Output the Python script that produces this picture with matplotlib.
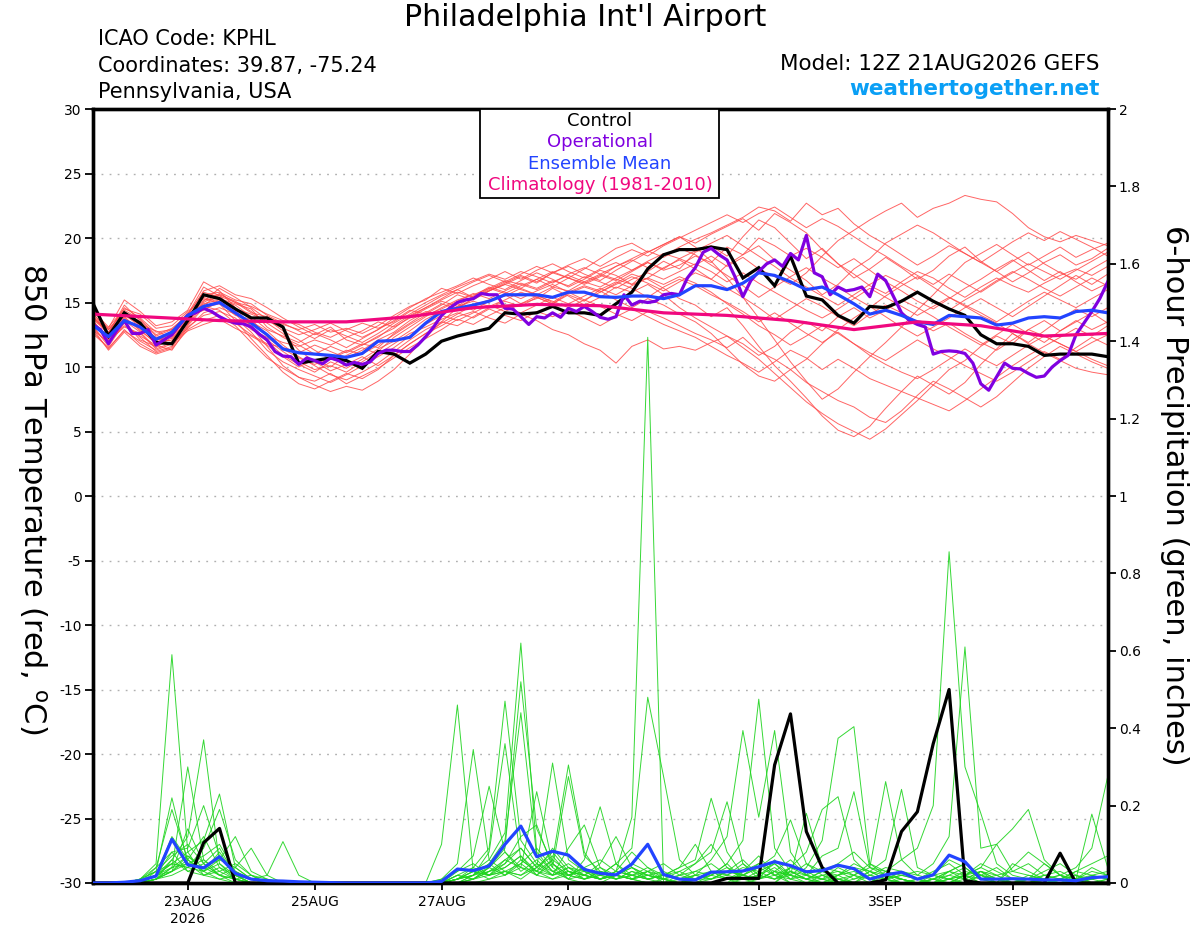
import matplotlib
matplotlib.use('Agg')
import matplotlib.pyplot as plt
from matplotlib.patches import Rectangle
import numpy as np

plt.rcParams['font.family'] = ['DejaVu Sans']
plt.rcParams['axes.unicode_minus'] = False

# ---------------- time axes (hours after 12Z 21AUG2026) ----------------
hours6 = np.arange(0, 385, 6)
hours3 = np.arange(0, 385, 3)
hours24 = np.arange(0, 385, 24)

xtick_hours = [36, 84, 132, 180, 252, 300, 348]
xtick_labels = ['23AUG\n2026', '25AUG', '27AUG', '29AUG', '1SEP', '3SEP', '5SEP']
temp_ticks = list(range(-30, 31, 5))
precip_ticks = [0, 0.2, 0.4, 0.6, 0.8, 1.0, 1.2, 1.4, 1.6, 1.8, 2.0]
precip_tick_labels = ['0', '0.2', '0.4', '0.6', '0.8', '1', '1.2', '1.4', '1.6', '1.8', '2']

# ---------------- 850 hPa temperature (C) ----------------
control_temp = [15.0, 12.4, 14.2, 13.4, 11.9, 11.8, 13.6, 15.6, 15.3, 14.5, 13.8, 13.8, 13.1,
                10.3, 10.5, 10.7, 10.5, 9.9, 11.2, 11.0, 10.3, 11.0, 12.0, 12.4, 12.7, 13.0,
                14.2, 14.1, 14.2, 14.7, 14.2, 14.2, 14.0, 14.9, 15.8, 17.6, 18.7, 19.1, 19.1,
                19.3, 19.1, 16.9, 17.7, 16.3, 18.6, 15.5, 15.2, 14.0, 13.4, 14.7, 14.6, 15.1,
                15.8, 15.1, 14.5, 14.0, 12.5, 11.8, 11.8, 11.6, 10.9, 11.0, 11.0, 11.0, 10.8]

mean_temp = [13.25, 12.35, 13.6, 13.1, 12.15, 12.7, 14.0, 14.7, 15.0, 14.2, 13.4, 12.5, 11.4,
             11.1, 11.0, 10.9, 10.75, 11.05, 12.0, 12.05, 12.3, 13.4, 14.3, 14.55, 14.8, 15.1,
             15.6, 15.6, 15.6, 15.4, 15.8, 15.8, 15.45, 15.4, 15.5, 15.5, 15.3, 15.6, 16.3,
             16.3, 16.0, 16.5, 17.3, 17.1, 16.6, 16.0, 16.2, 15.6, 14.9, 14.1, 14.4, 14.0,
             13.5, 13.3, 14.0, 13.9, 13.8, 13.25, 13.4, 13.8, 13.9, 13.8, 14.3, 14.4, 14.2]

oper_temp = [13.3, 12.9, 11.8, 12.8, 13.6, 12.6, 12.6, 12.9, 11.7, 12.1, 12.5, 13.3, 14.0, 14.2, 14.55, 14.3,
             13.9, 13.6, 13.4, 13.35, 13.1, 12.55, 12.1, 11.2, 10.85, 10.8, 10.2, 10.7, 10.5, 10.25, 10.7, 10.5,
             10.15, 10.35, 10.2, 10.4, 11.05, 11.3, 11.3, 11.2, 11.2, 11.7, 12.35, 13.1, 14.0, 14.55, 15.0, 15.2,
             15.3, 15.7, 15.6, 15.6, 14.55, 14.5, 13.9, 13.3, 13.9, 13.8, 14.2, 13.85, 14.55, 14.3, 14.7, 14.3,
             13.85, 13.7, 13.9, 15.6, 14.8, 15.1, 15.0, 15.1, 15.6, 15.7, 15.6, 16.9, 17.7, 18.9, 19.2, 18.7,
             18.3, 17.0, 15.45, 16.7, 17.4, 18.0, 18.3, 17.8, 18.8, 18.3, 20.2, 17.3, 17.0, 15.6, 16.2, 15.9,
             16.0, 16.2, 15.45, 17.2, 16.7, 15.45, 14.2, 13.6, 13.3, 13.1, 11.0, 11.2, 11.25, 11.2, 11.05, 10.3,
             8.7, 8.2, 9.25, 10.3, 9.9, 9.85, 9.5, 9.2, 9.3, 10.0, 10.5, 10.9, 12.5, 13.4, 14.3, 15.3, 16.6]

clim_temp = [14.1, 13.85, 13.6, 13.5, 13.5, 13.9, 14.6, 14.85, 14.75, 14.2, 14.0, 13.6, 12.9,
             13.5, 13.2, 12.4, 12.6]

temp_m01 = [14.0, 12.6, 14.8, 13.6, 12.4, 12.9, 14.1, 15.8, 15.4, 14.3, 13.2, 12.1, 11.2,
            10.4, 9.8, 10.1, 9.6, 10.4, 11.2, 12.3, 13.1, 13.9, 14.6, 15.2, 15.6, 16.1,
            15.7, 16.3, 16.8, 16.2, 15.9, 16.6, 17.2, 16.8, 16.4, 17.4, 18.2, 17.6, 18.9,
            19.4, 18.6, 20.1, 21.4, 20.8, 19.6, 18.4, 19.2, 18.0, 16.9, 17.6, 18.5, 17.7,
            16.8, 17.5, 18.6, 19.3, 18.2, 17.4, 16.6, 17.3, 18.1, 18.7, 17.9, 18.4, 19.2]
temp_m02 = [13.2, 11.6, 13.4, 12.3, 11.2, 11.6, 13.2, 14.6, 14.9, 13.6, 12.2, 10.9, 9.6,
            8.7, 8.3, 8.9, 9.5, 9.1, 9.8, 10.9, 11.8, 12.6, 13.4, 14.1, 14.8, 15.2,
            15.6, 14.9, 15.3, 16.1, 15.5, 14.8, 15.4, 16.2, 15.8, 16.4, 15.6, 14.6, 13.8,
            13.1, 12.4, 11.5, 10.6, 9.5, 8.4, 7.3, 6.4, 5.6, 5.0, 4.4, 5.2, 6.3,
            7.4, 8.6, 9.8, 10.5, 11.6, 12.4, 11.8, 12.9, 13.6, 12.8, 13.5, 14.2, 13.4]
temp_m03 = [13.8, 12.9, 14.3, 13.2, 12.1, 12.4, 13.5, 15.1, 16.1, 15.4, 14.6, 13.7, 12.8,
            12.1, 11.3, 10.6, 11.2, 11.8, 11.5, 12.6, 13.4, 14.2, 14.9, 14.5, 15.3, 15.9,
            16.4, 16.0, 15.6, 16.2, 16.9, 16.5, 17.1, 16.7, 17.4, 18.1, 17.6, 18.4, 17.9,
            18.6, 17.8, 18.5, 17.6, 17.0, 16.4, 17.3, 18.6, 19.8, 20.6, 21.4, 22.1, 22.7,
            21.6, 22.3, 22.7, 23.3, 23.0, 22.8, 21.9, 20.8, 20.1, 19.7, 20.2, 19.8, 19.4]
temp_m04 = [13.6, 12.2, 13.9, 12.8, 11.9, 12.1, 13.7, 14.9, 15.2, 14.8, 13.9, 12.9, 12.4,
            11.9, 12.6, 12.1, 11.5, 12.2, 12.9, 13.6, 14.4, 14.1, 14.8, 15.6, 15.2, 15.9,
            16.5, 17.1, 16.6, 17.3, 16.9, 16.4, 17.0, 17.8, 18.3, 17.7, 18.6, 19.3, 19.9,
            20.4, 21.0, 21.6, 22.4, 22.1, 21.3, 22.7, 21.8, 22.3, 21.1, 20.2, 19.5, 18.7,
            17.9, 18.6, 19.4, 18.8, 18.1, 17.4, 18.2, 18.9, 18.0, 17.3, 16.8, 17.6, 18.3]
temp_m05 = [13.4, 12.0, 13.1, 12.6, 11.4, 11.9, 13.0, 14.2, 14.6, 14.1, 13.5, 12.8, 11.7,
            10.8, 10.1, 9.4, 9.0, 9.6, 10.3, 11.2, 12.1, 12.9, 13.5, 13.2, 13.9, 14.6,
            15.1, 14.7, 15.4, 14.9, 15.7, 16.2, 15.8, 16.5, 17.2, 16.8, 16.1, 15.3, 14.8,
            13.9, 14.6, 13.2, 11.6, 10.1, 8.9, 7.6, 6.2, 5.1, 4.6, 5.4, 6.8, 8.1,
            9.3, 8.6, 7.9, 8.8, 10.2, 11.4, 12.6, 11.9, 12.8, 13.7, 14.5, 13.9, 14.6]
temp_m06 = [12.8, 11.4, 12.9, 11.8, 11.1, 11.5, 13.3, 14.8, 15.6, 15.1, 14.3, 13.4, 12.6,
            11.3, 10.4, 9.7, 10.2, 10.8, 10.1, 10.9, 11.8, 12.6, 13.2, 13.9, 14.3, 13.8,
            13.4, 14.1, 13.6, 12.9, 12.5, 11.8, 11.3, 10.3, 11.6, 12.1, 11.4, 11.6, 11.3,
            11.9, 12.4, 11.8, 10.9, 11.6, 12.7, 13.5, 12.8, 13.9, 14.6, 13.8, 14.4, 15.2,
            14.6, 13.9, 13.1, 12.4, 11.7, 12.5, 13.3, 12.6, 11.9, 12.8, 13.6, 12.9, 13.5]
temp_m07 = [14.1, 13.0, 15.2, 14.3, 13.2, 13.5, 14.4, 16.6, 15.9, 14.6, 13.1, 11.6, 10.1,
            9.2, 8.6, 8.1, 8.5, 8.2, 8.9, 9.8, 11.0, 12.3, 13.5, 14.6, 15.3, 15.9,
            16.4, 17.0, 16.5, 17.3, 17.8, 17.2, 16.7, 17.5, 18.2, 18.9, 19.5, 20.1, 19.6,
            20.3, 20.9, 21.5, 20.6, 21.9, 21.2, 20.4, 19.1, 18.0, 17.2, 16.3, 15.7, 16.6,
            17.4, 16.9, 16.1, 15.4, 16.2, 16.9, 16.3, 15.8, 16.5, 17.1, 17.6, 17.1, 17.8]
temp_m08 = [13.5, 12.3, 13.7, 13.0, 12.0, 12.7, 13.8, 15.4, 15.0, 14.0, 13.7, 12.4, 11.9,
            11.6, 12.1, 11.7, 12.3, 12.8, 13.5, 13.1, 13.8, 14.5, 15.1, 14.7, 15.5, 16.2,
            15.8, 15.3, 15.9, 16.4, 15.8, 15.2, 15.8, 16.4, 17.0, 16.5, 15.9, 16.6, 17.3,
            16.8, 16.1, 15.4, 14.6, 13.7, 14.5, 15.3, 14.7, 13.9, 13.2, 14.1, 14.8, 14.2,
            13.5, 12.8, 13.4, 12.6, 11.9, 11.3, 12.1, 12.9, 12.4, 11.8, 11.2, 10.6, 10.1]
temp_m09 = [13.9, 12.5, 14.0, 13.3, 12.8, 12.2, 13.6, 15.6, 15.8, 15.2, 14.9, 14.0, 13.4,
            12.8, 12.2, 12.9, 12.4, 11.9, 12.6, 13.4, 14.1, 14.8, 15.5, 16.0, 15.4, 16.0,
            16.6, 16.1, 16.8, 17.4, 16.9, 17.6, 18.4, 19.2, 19.6, 18.9, 19.5, 20.1, 19.3,
            18.2, 16.9, 15.4, 13.8, 12.1, 10.4, 8.9, 7.5, 8.3, 9.6, 10.8, 11.9, 13.1,
            14.4, 15.6, 16.9, 18.1, 18.8, 19.5, 18.7, 17.9, 18.6, 19.3, 18.5, 19.1, 19.6]
temp_m10 = [13.1, 11.8, 13.5, 12.1, 11.6, 12.6, 13.9, 14.4, 15.1, 14.4, 13.0, 12.0, 10.9,
            10.2, 9.6, 10.4, 9.9, 10.6, 11.4, 12.0, 12.8, 13.7, 14.3, 14.9, 14.4, 15.1,
            15.5, 16.1, 15.6, 15.0, 15.8, 16.3, 15.9, 15.2, 14.6, 15.3, 14.8, 14.1, 13.5,
            12.6, 11.4, 10.2, 9.3, 8.9, 9.8, 10.6, 11.8, 12.9, 13.8, 14.6, 15.5, 16.3,
            17.0, 16.2, 15.4, 14.7, 14.0, 13.4, 12.6, 11.8, 11.1, 10.5, 9.9, 9.6, 9.4]
temp_m11 = [14.4, 13.1, 14.5, 14.1, 13.0, 13.2, 14.3, 15.3, 14.9, 14.5, 14.1, 13.6, 13.0,
            12.5, 12.9, 13.4, 12.8, 12.3, 12.9, 13.8, 14.6, 15.3, 15.8, 16.3, 16.9, 16.4,
            16.0, 16.7, 17.3, 16.8, 16.2, 16.8, 17.5, 17.1, 16.4, 16.9, 17.7, 18.3, 17.6,
            16.8, 17.9, 18.7, 19.4, 18.3, 17.5, 16.7, 15.6, 16.4, 17.6, 18.4, 19.6, 20.3,
            21.0, 20.4, 19.6, 18.8, 18.1, 18.9, 19.7, 20.4, 19.8, 20.5, 19.9, 19.3, 18.6]
temp_m12 = [12.9, 11.9, 13.2, 12.4, 11.7, 11.3, 13.1, 14.0, 14.3, 13.8, 12.7, 11.3, 10.4,
            9.8, 9.3, 8.8, 9.4, 10.1, 10.8, 11.5, 12.4, 13.3, 14.0, 13.6, 14.2, 14.8,
            14.3, 14.9, 15.5, 15.1, 14.6, 15.2, 14.7, 14.1, 13.6, 14.3, 13.8, 13.2, 12.6,
            12.1, 11.5, 12.3, 11.2, 10.6, 9.8, 8.8, 8.1, 7.4, 6.9, 6.1, 5.7, 6.6,
            7.8, 8.9, 8.3, 7.6, 6.9, 7.7, 8.8, 9.9, 10.8, 11.6, 11.0, 10.4, 9.9]
temp_m13 = [13.7, 12.7, 14.2, 13.5, 12.2, 12.0, 13.4, 15.0, 15.7, 15.0, 14.2, 13.9, 13.3,
            12.9, 13.3, 12.7, 13.0, 12.6, 13.2, 14.0, 14.7, 15.2, 16.1, 15.7, 16.3, 16.8,
            17.4, 16.8, 17.5, 18.0, 17.4, 16.9, 17.6, 18.1, 17.5, 18.2, 18.8, 18.4, 19.0,
            19.6, 20.2, 19.4, 18.6, 17.8, 16.9, 16.2, 15.5, 14.8, 15.6, 16.4, 17.1, 16.5,
            15.8, 15.1, 14.4, 15.2, 15.9, 16.7, 17.4, 16.8, 16.1, 15.5, 16.2, 16.9, 16.3]
temp_m14 = [13.3, 12.1, 13.8, 12.9, 11.8, 12.8, 14.2, 14.7, 14.4, 13.4, 12.5, 11.8, 11.5,
            11.1, 11.7, 11.2, 10.7, 11.3, 12.1, 12.7, 13.6, 14.3, 14.1, 14.7, 15.1, 14.7,
            15.2, 15.8, 15.4, 14.9, 15.6, 15.1, 16.0, 16.6, 16.1, 15.4, 16.2, 16.8, 16.3,
            15.6, 15.0, 14.3, 13.5, 14.2, 13.4, 12.6, 11.9, 12.7, 11.8, 10.9, 10.2, 9.6,
            9.1, 9.8, 10.6, 11.4, 10.7, 10.1, 10.9, 11.7, 12.4, 11.8, 11.2, 11.9, 12.5]
temp_m15 = [14.5, 12.9, 14.4, 13.7, 12.5, 13.0, 14.0, 15.9, 16.3, 15.6, 15.3, 14.6, 13.8,
            13.1, 12.5, 13.1, 12.1, 11.7, 12.3, 13.2, 14.0, 14.6, 15.3, 16.0, 16.6, 17.1,
            16.6, 17.2, 17.8, 17.3, 17.9, 18.4, 17.8, 18.5, 19.1, 18.6, 19.4, 20.0, 20.6,
            21.2, 21.8, 21.2, 21.9, 22.4, 21.6, 20.8, 21.5, 20.9, 20.1, 19.3, 18.6, 17.8,
            17.1, 16.4, 17.2, 16.5, 15.8, 16.6, 17.3, 18.0, 17.4, 16.8, 17.5, 18.2, 18.9]
temp_m16 = [13.0, 11.3, 12.7, 11.6, 11.0, 11.4, 12.9, 13.6, 14.0, 13.2, 11.9, 10.7, 9.9,
            9.2, 8.9, 9.5, 8.7, 9.3, 9.9, 10.7, 11.5, 12.2, 12.9, 13.7, 13.3, 14.0,
            14.6, 14.2, 14.8, 15.4, 14.9, 15.5, 16.1, 15.6, 16.3, 16.9, 16.4, 17.0, 16.5,
            15.8, 14.9, 14.1, 13.2, 12.5, 11.7, 12.4, 13.2, 12.6, 11.8, 11.1, 10.5, 11.3,
            12.1, 11.4, 10.8, 10.1, 9.5, 8.9, 9.6, 10.4, 11.2, 10.6, 11.5, 12.3, 11.7]
temp_m17 = [14.3, 12.4, 14.1, 13.1, 12.3, 12.5, 13.7, 15.2, 15.3, 14.9, 14.5, 13.1, 12.3,
            11.7, 11.0, 11.6, 11.1, 11.7, 12.4, 13.0, 13.9, 14.6, 15.2, 15.8, 15.4, 16.1,
            16.7, 16.4, 16.0, 16.6, 17.1, 16.6, 16.2, 16.9, 17.5, 18.1, 17.5, 17.9, 18.6,
            18.1, 19.3, 18.7, 20.0, 19.4, 18.6, 19.2, 18.5, 17.7, 18.4, 17.5, 16.6, 15.9,
            15.1, 14.5, 15.3, 16.1, 16.8, 17.6, 18.3, 17.5, 16.7, 17.4, 16.6, 15.9, 16.5]
temp_m18 = [12.6, 11.5, 12.8, 12.0, 11.3, 11.8, 12.8, 13.3, 13.7, 13.0, 12.4, 11.7, 10.8,
            10.0, 10.6, 10.0, 10.9, 11.5, 11.0, 11.8, 12.6, 13.1, 13.7, 14.2, 13.8, 14.5,
            14.0, 13.6, 14.3, 13.9, 14.4, 13.8, 13.2, 13.9, 14.5, 13.9, 13.3, 12.8, 12.3,
            11.6, 10.9, 10.3, 9.6, 10.4, 11.3, 10.7, 9.8, 10.6, 9.9, 9.1, 8.6, 8.1,
            7.6, 7.1, 6.6, 7.4, 8.3, 9.2, 10.1, 10.9, 11.6, 12.3, 13.0, 12.4, 13.2]
temp_m19 = [13.9, 12.7, 14.6, 13.8, 12.7, 12.9, 13.3, 15.5, 15.6, 14.1, 12.9, 12.3, 11.4,
            10.7, 10.2, 10.7, 11.3, 11.0, 11.7, 12.5, 13.3, 14.0, 14.5, 15.1, 15.7, 15.3,
            15.9, 16.5, 16.1, 16.7, 16.3, 17.0, 16.6, 16.1, 16.8, 17.3, 16.8, 17.4, 18.0,
            17.4, 16.6, 17.3, 16.5, 15.8, 15.1, 14.4, 13.8, 14.5, 15.3, 16.1, 15.4, 14.7,
            14.0, 14.7, 15.4, 14.8, 14.2, 13.5, 14.3, 15.1, 15.8, 15.2, 14.6, 15.3, 16.0]
temp_m20 = [13.6, 12.2, 13.6, 12.7, 11.5, 12.3, 14.1, 16.2, 15.5, 15.0, 14.7, 14.1, 13.6,
            13.3, 12.7, 12.3, 12.9, 13.4, 13.0, 13.5, 14.3, 15.0, 15.6, 16.2, 16.7, 17.2,
            16.8, 17.4, 17.0, 16.5, 17.2, 17.7, 17.2, 17.8, 18.4, 19.0, 18.5, 19.2, 18.7,
            17.9, 17.1, 16.3, 15.4, 16.2, 17.0, 17.7, 16.9, 16.2, 15.4, 14.7, 13.9, 13.1,
            12.4, 13.1, 13.8, 14.6, 15.3, 14.6, 13.9, 14.7, 15.5, 16.3, 17.1, 16.4, 17.2]

# ---------------- 6-hour precipitation (inches) ----------------
control_precip = [0, 0, 0, 0, 0, 0, 0, 0.104, 0.141, 0, 0, 0, 0,
                  0, 0, 0, 0, 0, 0, 0, 0, 0, 0, 0, 0, 0,
                  0, 0, 0, 0, 0, 0, 0, 0, 0, 0, 0, 0, 0,
                  0, 0.012, 0.012, 0.012, 0.305, 0.437, 0.133, 0.04, 0, 0, 0, 0.008, 0.133,
                  0.184, 0.36, 0.50, 0.006, 0, 0, 0, 0, 0, 0.077, 0, 0, 0]

mean_precip = [0, 0, 0.002, 0.006, 0.018, 0.113, 0.047, 0.039, 0.068, 0.025, 0.01, 0.006, 0.005,
               0.003, 0.002, 0.001, 0, 0, 0, 0, 0, 0, 0.004, 0.036, 0.032, 0.044,
               0.10, 0.147, 0.068, 0.082, 0.072, 0.035, 0.025, 0.021, 0.049, 0.10, 0.022, 0.01, 0.008,
               0.028, 0.029, 0.031, 0.042, 0.055, 0.045, 0.029, 0.032, 0.046, 0.037, 0.01, 0.021, 0.028,
               0.01, 0.021, 0.072, 0.055, 0.01, 0.01, 0.011, 0.01, 0.008, 0.008, 0.006, 0.014, 0.016]

precip_m01 = [0, 0, 0, 0.01, 0.05, 0.59, 0.08, 0.02, 0.01, 0, 0, 0, 0,
              0, 0, 0, 0, 0, 0, 0, 0, 0, 0, 0.01, 0.02, 0.03,
              0.05, 0.12, 0.15, 0.04, 0.01, 0, 0, 0.02, 0.01, 0, 0, 0, 0,
              0, 0, 0, 0.01, 0.06, 0.02, 0, 0, 0, 0, 0, 0.01, 0.02,
              0.01, 0, 0.03, 0.05, 0.02, 0, 0.05, 0.03, 0.01, 0, 0, 0, 0.01]
precip_m02 = [0, 0, 0, 0, 0.02, 0.06, 0.12, 0.37, 0.05, 0.01, 0, 0, 0,
              0, 0, 0, 0, 0, 0, 0, 0, 0, 0, 0, 0.01, 0.04,
              0.08, 0.03, 0.06, 0.02, 0.09, 0.15, 0.04, 0.01, 0.02, 0.03, 0, 0, 0.01,
              0.02, 0.05, 0.01, 0, 0, 0.03, 0.01, 0, 0, 0, 0, 0, 0.01,
              0, 0, 0, 0.02, 0.01, 0, 0.04, 0.08, 0.05, 0.02, 0, 0, 0]
precip_m03 = [0, 0, 0, 0, 0.01, 0.04, 0.30, 0.06, 0.02, 0, 0, 0, 0,
              0, 0, 0, 0, 0, 0, 0, 0, 0, 0.01, 0.03, 0.05, 0.02,
              0.04, 0.07, 0.02, 0.05, 0.01, 0.06, 0.197, 0.05, 0.01, 0, 0.01, 0, 0,
              0, 0, 0.03, 0.07, 0.02, 0, 0, 0.01, 0.04, 0.02, 0, 0, 0,
              0.01, 0.02, 0.03, 0.01, 0, 0, 0, 0.01, 0.05, 0.02, 0, 0, 0]
precip_m04 = [0, 0, 0, 0.01, 0.03, 0.05, 0.08, 0.11, 0.23, 0.04, 0.01, 0, 0,
              0, 0, 0, 0, 0, 0, 0, 0, 0, 0, 0, 0, 0.01,
              0.03, 0.02, 0.04, 0.08, 0.03, 0.02, 0.05, 0.12, 0.04, 0.02, 0.01, 0, 0,
              0, 0.01, 0, 0, 0, 0.04, 0.02, 0.01, 0, 0, 0.03, 0.01, 0,
              0, 0.01, 0, 0.02, 0, 0, 0, 0.01, 0.02, 0.03, 0.01, 0.178, 0.04]
precip_m05 = [0, 0, 0, 0, 0.04, 0.19, 0.06, 0.03, 0.05, 0.02, 0, 0, 0,
              0, 0, 0, 0, 0, 0, 0, 0, 0, 0, 0, 0.02, 0.05,
              0.02, 0.06, 0.03, 0.01, 0.02, 0.04, 0.01, 0.03, 0.08, 0.04, 0.01, 0, 0,
              0, 0, 0.01, 0.02, 0.05, 0.01, 0, 0, 0.02, 0, 0, 0.03, 0.01,
              0, 0, 0.01, 0, 0.02, 0.01, 0, 0, 0.01, 0.02, 0.04, 0.09, 0.275]
precip_m06 = [0, 0, 0, 0, 0.02, 0.08, 0.09, 0.20, 0.07, 0.03, 0.01, 0.02, 0.107,
              0.02, 0, 0, 0, 0, 0, 0, 0, 0, 0, 0.01, 0.03, 0.02,
              0.06, 0.09, 0.04, 0.02, 0.03, 0.01, 0.02, 0.05, 0.02, 0.01, 0.02, 0.04, 0.06,
              0.219, 0.08, 0.02, 0.01, 0.03, 0, 0, 0.02, 0.01, 0, 0, 0.01, 0.03,
              0.01, 0, 0, 0, 0.03, 0.01, 0, 0, 0, 0.01, 0, 0, 0]
precip_m07 = [0, 0, 0, 0, 0.01, 0.03, 0.14, 0.05, 0.09, 0.02, 0, 0, 0,
              0, 0, 0, 0, 0, 0, 0, 0, 0, 0.10, 0.46, 0.03, 0.01,
              0.02, 0.05, 0.02, 0.01, 0.03, 0.02, 0.01, 0.02, 0.04, 0.01, 0, 0.02, 0.05,
              0.08, 0.21, 0.05, 0.02, 0.01, 0.03, 0.02, 0, 0.01, 0, 0.02, 0.01, 0,
              0, 0.02, 0.01, 0, 0.02, 0.04, 0.01, 0.01, 0, 0, 0, 0.02, 0.01]
precip_m08 = [0, 0, 0, 0, 0.02, 0.05, 0.04, 0.09, 0.19, 0.06, 0.02, 0, 0,
              0, 0, 0, 0, 0, 0, 0, 0, 0, 0.01, 0.05, 0.345, 0.06,
              0.03, 0.01, 0.04, 0.07, 0.02, 0.01, 0.02, 0.01, 0.03, 0.02, 0.01, 0, 0.02,
              0.06, 0.12, 0.394, 0.17, 0.394, 0.08, 0.02, 0.01, 0, 0.02, 0.01, 0, 0,
              0.01, 0, 0, 0.01, 0.03, 0.02, 0, 0, 0.01, 0, 0.02, 0, 0]
precip_m09 = [0, 0, 0, 0.01, 0.03, 0.22, 0.05, 0.02, 0.03, 0.01, 0, 0, 0,
              0, 0, 0, 0, 0, 0, 0, 0, 0, 0, 0.02, 0.04, 0.09,
              0.47, 0.11, 0.05, 0.02, 0.04, 0.01, 0.03, 0.01, 0.02, 0.04, 0.02, 0.01, 0,
              0.02, 0.05, 0.11, 0.475, 0.09, 0.03, 0.01, 0, 0.02, 0.03, 0.01, 0, 0,
              0, 0.01, 0.03, 0.02, 0, 0, 0.01, 0, 0, 0, 0.01, 0.03, 0.02]
precip_m10 = [0, 0, 0, 0, 0.01, 0.03, 0.07, 0.04, 0.06, 0.12, 0.03, 0.01, 0,
              0, 0, 0, 0, 0, 0, 0, 0, 0, 0, 0.01, 0.03, 0.06,
              0.13, 0.62, 0.08, 0.03, 0.01, 0.02, 0.04, 0.02, 0.01, 0.03, 0.01, 0, 0.01,
              0.03, 0.01, 0.02, 0.04, 0.07, 0.163, 0.05, 0.02, 0, 0.01, 0.03, 0.02, 0,
              0, 0, 0.02, 0.01, 0.03, 0, 0, 0.02, 0.01, 0, 0, 0.01, 0.02]
precip_m11 = [0, 0, 0, 0, 0.03, 0.07, 0.10, 0.05, 0.02, 0.04, 0.01, 0, 0,
              0, 0, 0, 0, 0, 0, 0, 0, 0, 0, 0.02, 0.01, 0.04,
              0.09, 0.52, 0.14, 0.05, 0.02, 0.03, 0.01, 0.02, 0.05, 0.03, 0.02, 0.01, 0.03,
              0.02, 0.04, 0.01, 0.03, 0.05, 0.02, 0.18, 0.04, 0.01, 0, 0, 0.02, 0.01,
              0, 0.01, 0, 0.02, 0.04, 0.02, 0, 0, 0, 0.01, 0, 0, 0]
precip_m12 = [0, 0, 0, 0, 0.02, 0.12, 0.06, 0.03, 0.08, 0.02, 0, 0, 0,
              0, 0, 0, 0, 0, 0, 0, 0, 0, 0, 0.01, 0.02, 0.05,
              0.11, 0.44, 0.07, 0.03, 0.05, 0.02, 0.01, 0.03, 0.02, 0.01, 0.02, 0.03, 0.01,
              0.01, 0.03, 0.06, 0.02, 0.01, 0.04, 0.08, 0.19, 0.223, 0.06, 0.02, 0.01, 0,
              0, 0, 0.01, 0.03, 0.02, 0, 0, 0, 0.01, 0.02, 0.01, 0, 0]
precip_m13 = [0, 0, 0, 0, 0.01, 0.04, 0.05, 0.07, 0.10, 0.03, 0.01, 0, 0,
              0, 0, 0, 0, 0, 0, 0, 0, 0, 0, 0.03, 0.07, 0.25,
              0.08, 0.04, 0.02, 0.06, 0.03, 0.02, 0.01, 0.02, 0.01, 0.03, 0.05, 0.02, 0.01,
              0.02, 0.01, 0.03, 0.05, 0.02, 0.01, 0.04, 0.11, 0.374, 0.404, 0.05, 0.02, 0.01,
              0, 0.01, 0.02, 0.04, 0.01, 0, 0, 0.01, 0, 0, 0, 0.01, 0.02]
precip_m14 = [0, 0, 0, 0, 0.02, 0.03, 0.06, 0.12, 0.04, 0.01, 0.02, 0, 0,
              0, 0, 0, 0, 0, 0, 0, 0, 0, 0, 0, 0.02, 0.08,
              0.36, 0.06, 0.03, 0.09, 0.04, 0.02, 0.01, 0.03, 0.02, 0.01, 0.02, 0.01, 0.02,
              0.01, 0.03, 0.02, 0.01, 0.03, 0.06, 0.02, 0.07, 0.09, 0.236, 0.04, 0.02, 0.01,
              0, 0, 0.01, 0.02, 0.03, 0.01, 0, 0, 0.02, 0.01, 0, 0, 0.01]
precip_m15 = [0, 0, 0, 0.01, 0.04, 0.08, 0.03, 0.05, 0.02, 0.01, 0, 0, 0,
              0, 0, 0, 0, 0, 0, 0, 0, 0, 0, 0.01, 0.03, 0.02,
              0.05, 0.09, 0.04, 0.31, 0.06, 0.03, 0.01, 0.02, 0.04, 0.02, 0.01, 0.03, 0.05,
              0.10, 0.04, 0.02, 0.01, 0.03, 0.02, 0.01, 0.03, 0.05, 0.08, 0.04, 0.262, 0.06,
              0.02, 0.01, 0.03, 0.05, 0.02, 0.01, 0, 0.01, 0.03, 0.05, 0.02, 0, 0]
precip_m16 = [0, 0, 0, 0, 0.01, 0.02, 0.04, 0.03, 0.06, 0.04, 0.09, 0.02, 0,
              0, 0, 0, 0, 0, 0, 0, 0, 0, 0, 0.02, 0.01, 0.03,
              0.04, 0.07, 0.03, 0.06, 0.305, 0.08, 0.02, 0.01, 0.03, 0.01, 0.02, 0.04, 0.10,
              0.03, 0.02, 0.05, 0.01, 0.02, 0.04, 0.03, 0.01, 0.02, 0.05, 0.03, 0.06, 0.242,
              0.04, 0.02, 0.01, 0.02, 0.05, 0.03, 0.01, 0, 0, 0.01, 0.03, 0.02, 0.01]
precip_m17 = [0, 0, 0, 0, 0.01, 0.06, 0.03, 0.02, 0.04, 0.02, 0, 0, 0,
              0, 0, 0, 0, 0, 0, 0, 0, 0, 0, 0, 0.01, 0.03,
              0.06, 0.04, 0.236, 0.05, 0.02, 0.01, 0.03, 0.02, 0.01, 0.02, 0.03, 0.01, 0,
              0.01, 0.02, 0.04, 0.03, 0.01, 0.02, 0.05, 0.03, 0.01, 0.02, 0.04, 0.03, 0.06,
              0.09, 0.20, 0.856, 0.30, 0.18, 0.05, 0.02, 0.01, 0, 0.01, 0.02, 0.01, 0]
precip_m18 = [0, 0, 0, 0, 0.02, 0.04, 0.07, 0.03, 0.01, 0.02, 0.01, 0, 0,
              0, 0, 0, 0, 0, 0, 0, 0, 0, 0, 0.01, 0.04, 0.02,
              0.03, 0.05, 0.09, 0.04, 0.275, 0.07, 0.03, 0.02, 0.01, 0.02, 0.01, 0.02, 0.03,
              0.05, 0.02, 0.01, 0.02, 0.04, 0.01, 0.02, 0.04, 0.03, 0.01, 0.02, 0.04, 0.03,
              0.02, 0.05, 0.12, 0.61, 0.09, 0.10, 0.03, 0.02, 0.01, 0, 0.01, 0.02, 0.03]
precip_m19 = [0, 0, 0, 0, 0.01, 0.03, 0.05, 0.04, 0.02, 0.01, 0, 0, 0,
              0, 0, 0, 0, 0, 0, 0, 0, 0, 0, 0, 0.01, 0.02,
              0.03, 0.02, 0.05, 0.03, 0.02, 0.04, 0.06, 0.03, 0.17, 1.41, 0.0, 0.01, 0.02,
              0.03, 0.01, 0.02, 0.05, 0.03, 0.02, 0.01, 0.03, 0.02, 0.04, 0.03, 0.01, 0.02,
              0.01, 0.03, 0.05, 0.02, 0.04, 0.10, 0.14, 0.19, 0.06, 0.02, 0.01, 0.04, 0.02]
precip_m20 = [0, 0, 0, 0, 0.02, 0.05, 0.04, 0.06, 0.03, 0.05, 0.02, 0.01, 0,
              0, 0, 0, 0, 0, 0, 0, 0, 0, 0, 0.01, 0.02, 0.04,
              0.02, 0.04, 0.03, 0.02, 0.04, 0.03, 0.02, 0.05, 0.09, 0.48, 0.275, 0.06, 0.02,
              0.01, 0.03, 0.02, 0.04, 0.02, 0.03, 0.01, 0.02, 0.03, 0.02, 0.05, 0.03, 0.02,
              0.03, 0.02, 0.06, 0.04, 0.01, 0.02, 0.03, 0.05, 0.02, 0.01, 0.03, 0.05, 0.07]

temp_members = [temp_m01, temp_m02, temp_m03, temp_m04, temp_m05, temp_m06, temp_m07,
                temp_m08, temp_m09, temp_m10, temp_m11, temp_m12, temp_m13, temp_m14,
                temp_m15, temp_m16, temp_m17, temp_m18, temp_m19, temp_m20]
precip_members = [precip_m01, precip_m02, precip_m03, precip_m04, precip_m05, precip_m06,
                  precip_m07, precip_m08, precip_m09, precip_m10, precip_m11, precip_m12,
                  precip_m13, precip_m14, precip_m15, precip_m16, precip_m17, precip_m18,
                  precip_m19, precip_m20]

# ---------------- colours ----------------
C_MEMBER_T = '#ff4a4a'
C_MEMBER_P = '#1fd41f'
C_CONTROL = '#000000'
C_OPER = '#8000e0'
C_MEAN = '#2244ff'
C_CLIM = '#f0087f'
C_SITE = '#0a9ff5'

W, H = 1200, 927
fig = plt.figure(figsize=(W / 100, H / 100), dpi=100)
fig.patch.set_facecolor('white')

L, R, T, B = 92.6, 1107.7, 109, 883
ax = fig.add_axes([L / W, 1 - B / H, (R - L) / W, (B - T) / H])
ax2 = ax.twinx()

# temperature
for m in temp_members:
    ax.plot(hours6, m, color=C_MEMBER_T, lw=0.7, alpha=0.85, zorder=2)
ax.plot(hours6, control_temp, color=C_CONTROL, lw=2.3, zorder=4, solid_joinstyle='miter')
ax.plot(hours3, oper_temp, color=C_OPER, lw=2.3, zorder=5)
ax.plot(hours6, mean_temp, color=C_MEAN, lw=2.3, zorder=6)
ax.plot(hours24, clim_temp, color=C_CLIM, lw=2.3, zorder=7)

# precipitation
for m in precip_members:
    ax2.plot(hours6, m, color=C_MEMBER_P, lw=0.7, alpha=0.9, zorder=2)
ax2.plot(hours6, control_precip, color=C_CONTROL, lw=2.3, zorder=4)
ax2.plot(hours6, mean_precip, color=C_MEAN, lw=2.3, zorder=5)

ax.set_xlim(0, 384)
ax.set_ylim(-30, 30)
ax2.set_ylim(0, 2)

ax.set_yticks(temp_ticks)
ax.set_yticklabels([str(v) for v in temp_ticks])
ax2.set_yticks(precip_ticks)
ax2.set_yticklabels(precip_tick_labels)
ax.set_xticks(xtick_hours)
ax.set_xticklabels(xtick_labels)

ax.yaxis.grid(True, color='#b0b0b0', lw=1.0, linestyle=(0, (1.3, 4.5)))
ax.set_axisbelow(True)

for a in (ax, ax2):
    for s in a.spines.values():
        s.set_linewidth(2.4)
        s.set_color('black')
ax.tick_params(axis='y', direction='out', length=6, width=1.3, pad=2, labelsize=10)
ax2.tick_params(axis='y', direction='out', length=6, width=1.3, pad=2, labelsize=10)
ax.tick_params(axis='x', direction='out', length=5, width=1.3, pad=4, labelsize=10)

# axis titles
fig.text(32 / W, 1 - 499 / H, '850 hPa Temperature (red, $^{\\mathrm{o}}$C)', rotation=270,
         ha='center', va='center', fontsize=22)
fig.text(1175 / W, 1 - 495 / H, '6-hour Precipitation (green, inches)', rotation=270,
         ha='center', va='center', fontsize=22)

# header texts
fig.text(585.5 / W, 1 - 18 / H, "Philadelphia Int'l Airport", ha='center', va='center', fontsize=21.6)
fig.text(98 / W, 1 - 39 / H, 'ICAO Code: KPHL', ha='left', va='center', fontsize=15)
fig.text(98 / W, 1 - 66 / H, 'Coordinates: 39.87, -75.24', ha='left', va='center', fontsize=15)
fig.text(98 / W, 1 - 92 / H, 'Pennsylvania, USA', ha='left', va='center', fontsize=15)
fig.text(1100 / W, 1 - 64 / H, 'Model: 12Z 21AUG2026 GEFS', ha='right', va='center', fontsize=15.5)
fig.text(1100 / W, 1 - 89 / H, 'weathertogether.net', ha='right', va='center', fontsize=15.5,
         fontweight='bold', color=C_SITE)

# legend box
fig.patches.append(Rectangle((480 / W, 1 - 198 / H), 239 / W, 89 / H, transform=fig.transFigure,
                             facecolor='white', edgecolor='black', lw=1.3, zorder=10))
legend_items = [('Control', C_CONTROL, 121), ('Operational', C_OPER, 142),
                ('Ensemble Mean', C_MEAN, 164), ('Climatology (1981-2010)', C_CLIM, 185.5)]
for txt, col, yy in legend_items:
    fig.text(600 / W, 1 - yy / H, txt, color=col, ha='center', va='center', fontsize=13, zorder=11)

fig.savefig('out.png', dpi=100)
